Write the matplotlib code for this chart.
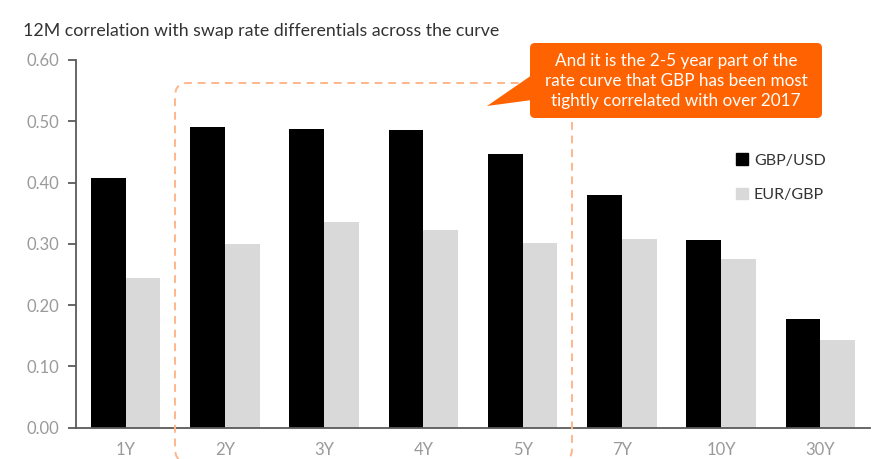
import numpy as np
import matplotlib
matplotlib.use("Agg")
import matplotlib.pyplot as plt
from matplotlib.patches import FancyBboxPatch, Polygon, Patch

# Data
tenors = ["1Y", "2Y", "3Y", "4Y", "5Y", "7Y", "10Y", "30Y"]
gbpusd = [0.408, 0.491, 0.487, 0.485, 0.446, 0.380, 0.306, 0.178]
eurgbp = [0.245, 0.299, 0.336, 0.323, 0.302, 0.308, 0.275, 0.143]
yticks = [0.0, 0.1, 0.2, 0.3, 0.4, 0.5, 0.6]

title = "12M correlation with swap rate differentials across the curve"
callout = ("And it is the 2-5 year part of the\n"
           "rate curve that GBP has been most\n"
           "tightly correlated with over 2017")

BLACK = "#000000"
GREY = "#d9d9d9"
ORANGE = "#ff6200"
LIGHT_ORANGE = "#ffb58a"
TICK_GREY = "#9a9a9a"

plt.rcParams["font.family"] = ["Lato", "DejaVu Sans"]

W, H = 873, 459
fig = plt.figure(figsize=(W / 100, H / 100), dpi=100)
ax = fig.add_axes([76 / W, 1 - 427.7 / H, (870 - 76) / W, (427.7 - 60) / H])

x = np.arange(len(tenors))
bw = 0.35
ax.bar(x - bw / 2, gbpusd, bw, color=BLACK, label="GBP/USD", zorder=2)
ax.bar(x + bw / 2, eurgbp, bw, color=GREY, label="EUR/GBP", zorder=2)

ax.set_xlim(-0.5, len(tenors) - 0.5)
ax.set_ylim(0, 0.6)
ax.set_yticks(yticks)
ax.set_yticklabels([f"{v:.2f}" for v in yticks])
ax.set_xticks(x)
ax.set_xticklabels(tenors)

for s in ["top", "right"]:
    ax.spines[s].set_visible(False)
for s in ["left", "bottom"]:
    ax.spines[s].set_color("#5a5a5a")
    ax.spines[s].set_linewidth(1.3)

ax.tick_params(axis="y", length=6, width=1.3, color="#5a5a5a",
               labelcolor=TICK_GREY, labelsize=12, pad=6)
ax.tick_params(axis="x", length=0, labelcolor=TICK_GREY, labelsize=12, pad=10)

fig.text(23 / W, 1 - 31 / H, title, fontsize=12.8, color="#333333",
         ha="left", va="center")

# pixel helper -> inches from bottom-left (dpi 100)
def px(xp, yp):
    return (xp / 100, (H - yp) / 100)

tr = fig.dpi_scale_trans

# dashed frame around 2Y-5Y
x0, y0 = px(175, 462)
x1, y1 = px(572, 83)
frame = FancyBboxPatch((x0, y0), x1 - x0, y1 - y0,
                       boxstyle="round,pad=0,rounding_size=0.13",
                       fill=False, ec=LIGHT_ORANGE, lw=1.4, ls=(0, (4, 3)),
                       transform=tr, zorder=5, clip_on=False)
fig.patches.append(frame)

# orange callout
bx0, by0 = px(530, 118)
bx1, by1 = px(822, 43)
box = FancyBboxPatch((bx0, by0), bx1 - bx0, by1 - by0,
                     boxstyle="round,pad=0,rounding_size=0.05",
                     fc=ORANGE, ec="none", transform=tr, zorder=6)
fig.patches.append(box)
tail = Polygon([px(532, 75), px(487, 106), px(532, 100)], closed=True,
               fc=ORANGE, ec="none", transform=tr, zorder=6)
fig.patches.append(tail)
cx, cy = px(676, 81)
fig.text(cx / (W / 100), cy / (H / 100), callout, color="white", fontsize=12.3,
         ha="center", va="center", linespacing=1.3, zorder=7)

handles = [Patch(color=BLACK), Patch(color=GREY)]
fig.legend(handles, ["GBP/USD", "EUR/GBP"], loc="upper left",
           bbox_to_anchor=(722 / W, 1 - 139 / H), frameon=False,
           fontsize=11.5, handlelength=0.7, handleheight=0.7,
           handletextpad=0.4, labelspacing=1.25, labelcolor="#333333")

fig.savefig("out.png", dpi=100)
